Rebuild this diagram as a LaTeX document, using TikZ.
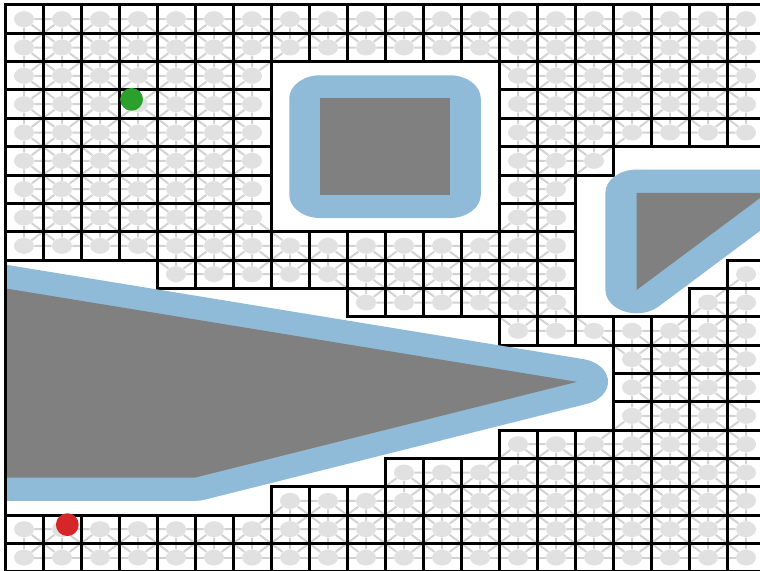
\documentclass[tikz,border=0pt]{standalone}
\usepackage{tikz}
\usetikzlibrary{shapes.geometric}
\usepackage{xcolor}
\definecolor{mBlue}{HTML}{8FBBD9}
\definecolor{mObst}{HTML}{808080}
\definecolor{mNode}{HTML}{E1E1E1}
\definecolor{mEdge}{HTML}{D2D2D2}
\definecolor{mGreen}{HTML}{2CA02C}
\definecolor{mRed}{HTML}{D62728}
% column ranges of the free cells, one entry per row (row 0 at the top)
\def\firstA{{0,0,0,0,0,0,0,0,0,4,9,13,16,16,16,13,10,7,0,0}}
\def\lastA{{19,19,6,6,6,6,6,6,14,14,14,19,19,19,19,19,19,19,19,19}}
\def\firstB{{99,99,13,13,13,13,13,13,99,19,18,99,99,99,99,99,99,99,99,99}}
\def\lastB{{-1,-1,19,19,19,15,14,14,-1,19,19,-1,-1,-1,-1,-1,-1,-1,-1,-1}}
\newcommand{\cellfree}[2]{%
  \pgfmathtruncatemacro{\isfree}{((#1>\firstA[#2]-0.5) && (#1<\lastA[#2]+0.5)) || ((#1>\firstB[#2]-0.5) && (#1<\lastB[#2]+0.5))}}

\begin{document}
\begin{tikzpicture}[xscale=0.667772, yscale=0.497903,
  cellnode/.style={ellipse, fill=mNode, draw=none, inner sep=0pt, minimum width=10pt, minimum height=8pt},
  gridedge/.style={mEdge, line width=1pt},
  cellbox/.style={black, line width=1.5pt},
  inflated/.style={fill=mBlue},
  obstacle/.style={fill=mObst},
  spine/.style={black, line width=1.5pt},
  dot/.style={circle, inner sep=0pt, minimum size=11.4pt}]
  \useasboundingbox (-0.13158,0.0588) rectangle (19.868,20.1765);
  % roadmap nodes in the free cells
  \foreach \rw in {0,...,19} {
    \foreach \col in {0,...,19} {
      \cellfree{\col}{\rw}
      \ifnum\isfree=1
        \node[cellnode] (n-\col-\rw) at ({\col+0.5},{19.5-\rw}) {};
      \fi
    }
  }
  % edges to the free neighbours
  \foreach \rw in {0,...,19} {
    \foreach \col in {0,...,19} {
      \cellfree{\col}{\rw}
      \ifnum\isfree=1
        \foreach \dc/\dr in {1/0, 0/1, 1/1, -1/1} {
          \pgfmathtruncatemacro{\ncol}{\col+\dc}
          \pgfmathtruncatemacro{\nrow}{\rw+\dr}
          \pgfmathtruncatemacro{\inside}{(\ncol>-1) && (\ncol<20) && (\nrow<20)}
          \ifnum\inside=1
            \cellfree{\ncol}{\nrow}
            \ifnum\isfree=1
              \draw[gridedge] (n-\col-\rw) -- (n-\ncol-\nrow);
            \fi
          \fi
        }
      \fi
    }
  }
  % cell borders
  \foreach \rw in {0,...,19} {
    \foreach \col in {0,...,19} {
      \cellfree{\col}{\rw}
      \ifnum\isfree=1
        \draw[cellbox] (\col,{19-\rw}) rectangle ++(1,1);
      \fi
    }
  }
  % obstacles and their inflated margins
  \begin{scope}
    \clip (0,-1) rectangle (21,20);
    \fill[inflated] (7.48,13.3) -- (7.48,16.7) arc[start angle=180, end angle=90, radius=0.82]
      -- (11.7,17.52) arc[start angle=90, end angle=0, radius=0.82]
      -- (12.52,13.3) arc[start angle=0, end angle=-90, radius=0.82]
      -- (8.3,12.48) arc[start angle=270, end angle=180, radius=0.82] -- cycle;
    \fill[obstacle] (8.3,13.3) rectangle (11.7,16.7);
    \fill[inflated] (17.2,9.36) -- (20.63,12.79) arc[start angle=-45, end angle=90, radius=0.82]
      -- (16.62,14.19) arc[start angle=90, end angle=180, radius=0.82]
      -- (15.8,9.94) arc[start angle=180, end angle=315, radius=0.82] -- cycle;
    \fill[obstacle] (16.62,13.37) -- (16.62,9.94) -- (20.05,13.37) -- cycle;
    \fill[inflated] (-1,2.5) -- (5,2.5) arc[start angle=-90, end angle=-71.4, radius=0.82]
      -- (15.311,5.923) arc[start angle=-71.4, end angle=77.63, radius=0.82]
      -- (-0.824,11.02) -- cycle;
    \fill[obstacle] (-1,10.219) -- (15.05,6.7) -- (5,3.32) -- (-1,3.32) -- cycle;
  \end{scope}
  % axes
  \draw[spine] (0,-0.5) -- (0,20) -- (20.5,20);
  % start and goal
  \node[dot, fill=mGreen] (start) at (3.33,16.67) {};
  \node[dot, fill=mRed] (goal) at (1.64,1.66) {};
\end{tikzpicture}
\end{document}
